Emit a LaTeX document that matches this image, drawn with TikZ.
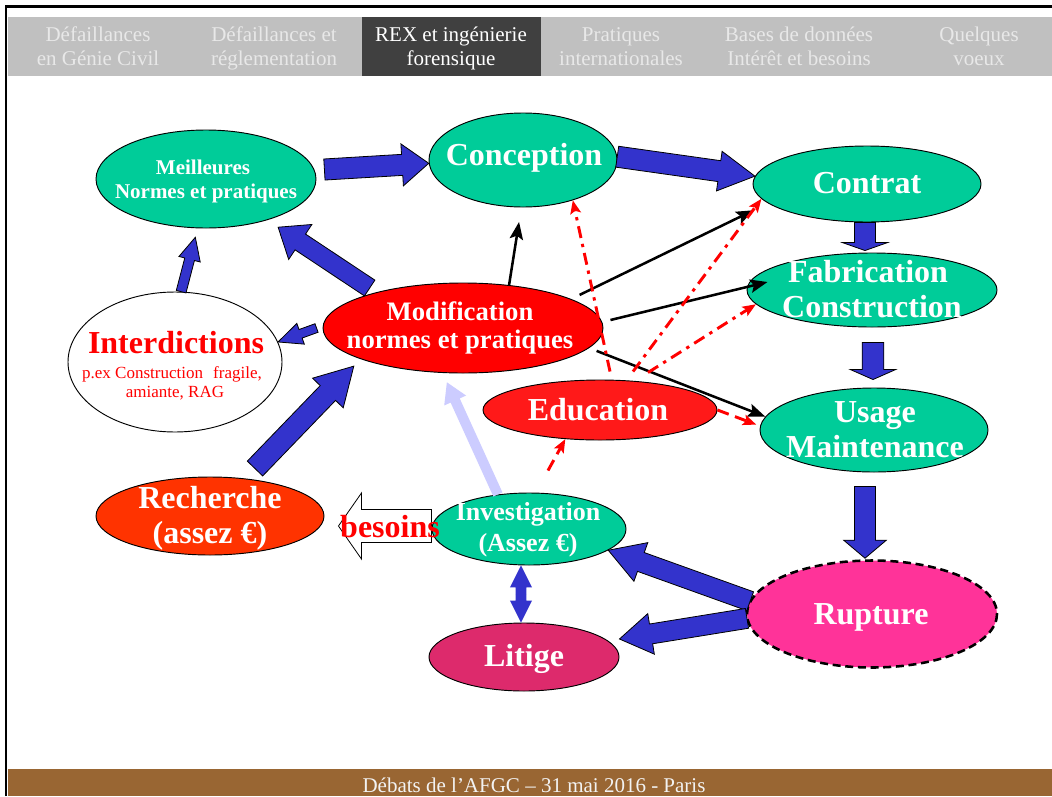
\documentclass[tikz,border=0pt]{standalone}
\usepackage{fontspec}
\setmainfont{Liberation Serif}
\newfontfamily\hdrfont{Liberation Serif}
\usetikzlibrary{calc,arrows.meta,shapes.geometric}
\definecolor{ngreen}{HTML}{00CC99}
\definecolor{modred}{HTML}{FF0000}
\definecolor{edured}{HTML}{FF1919}
\definecolor{rechred}{HTML}{FF3300}
\definecolor{litpink}{HTML}{DD2A6C}
\definecolor{ruptpink}{HTML}{FF3399}
\definecolor{arrblue}{HTML}{3333CC}
\definecolor{lavender}{HTML}{CCCCFF}
\definecolor{headgray}{HTML}{C0C0C0}
\definecolor{headtext}{HTML}{E8E8E8}
\definecolor{tabdark}{HTML}{404040}
\definecolor{footbrown}{HTML}{996633}
\definecolor{foottext}{HTML}{F2F2F2}
\tikzset{
  ell/.style={ellipse, draw=black, line width=0.7pt, inner sep=0pt},
  tw/.style={text=white, anchor=base, inner sep=0pt, font=\bfseries\fontsize{24}{24}\selectfont},
  hdr/.style={text=headtext, anchor=base, inner sep=0pt, font=\hdrfont\fontsize{15.75}{18}\selectfont},
  blockarr/.style={fill=arrblue, draw=black, line width=0.6pt, line join=miter},
  blackarr/.style={draw=black, line width=1.9pt, -{Stealth[length=13pt,width=10pt,inset=2.5pt]}},
  reddash/.style={draw=red, line width=2.2pt, dash pattern=on 9pt off 4.5pt on 2.5pt off 4.5pt, -{Stealth[length=10pt,width=8pt,inset=2pt]}},
  redplain/.style={draw=red, line width=2.2pt, dash pattern=on 9pt off 5pt, -{Stealth[length=10pt,width=8pt,inset=2pt]}}
}
% #1 extra style, #2 start, #3 tip, #4 shaft half width, #5 head half width, #6 head length
\newcommand\blockarrow[6][]{%
  \coordinate (ba-s) at (#2);
  \coordinate (ba-e) at (#3);
  \coordinate (ba-h) at ($(ba-e)!#6!(ba-s)$);
  \path[blockarr,#1] ($(ba-s)!#4!90:(ba-e)$) -- ($(ba-h)!#4!-90:(ba-s)$) -- ($(ba-h)!#5!-90:(ba-s)$) -- (ba-e) -- ($(ba-h)!#5!90:(ba-s)$) -- ($(ba-h)!#4!90:(ba-s)$) -- ($(ba-s)!#4!-90:(ba-e)$) -- cycle;
}
\begin{document}
\begin{tikzpicture}[x=0.75pt,y=-0.75pt]
\useasboundingbox (0,0) rectangle (1052,796);
\fill[white] (0,0) rectangle (1052,796);
% header band
\fill[headgray] (8,17) rectangle (1052,76);
\fill[tabdark] (362,17) rectangle (541,76);
\draw[line width=1.8pt, line join=miter] (6,796) -- (6,6.5) -- (1052,6.5);
% footer band
\fill[footbrown] (8,769) rectangle (1052,796);
% header tabs
\node[hdr] (t1a) at (98,41) {Défaillances};
\node[hdr] (t1b) at (98,65) {en Génie Civil};
\node[hdr] (t2a) at (274,41) {Défaillances et};
\node[hdr] (t2b) at (274,65) {réglementation};
\node[hdr, text=white] (t3a) at (451,41) {REX et ingénierie};
\node[hdr, text=white] (t3b) at (451,65) {forensique};
\node[hdr] (t4a) at (621,41) {Pratiques};
\node[hdr] (t4b) at (621,65) {internationales};
\node[hdr] (t5a) at (799,41) {Bases de données};
\node[hdr] (t5b) at (799,65) {Intérêt et besoins};
\node[hdr] (t6a) at (979,41) {Quelques};
\node[hdr] (t6b) at (979,65) {voeux};
\node[hdr, text=foottext] (foot) at (534,792) {Débats de l’AFGC – 31 mai 2016 - Paris};

% ellipses
\node[ell, fill=ngreen, minimum width=165pt, minimum height=73.5pt] (meil) at (206,179) {};
\node[ell, fill=ngreen, minimum width=141pt, minimum height=70.5pt] (conc) at (523,160) {};
\node[ell, fill=ngreen, minimum width=171pt, minimum height=57pt] (contrat) at (867,184) {};
\node[ell, fill=ngreen, minimum width=187.5pt, minimum height=55.5pt] (fab) at (872,290) {};
\node[ell, fill=ngreen, minimum width=171pt, minimum height=63pt] (usage) at (874,430) {};
\node[ell, fill=modred, minimum width=210pt, minimum height=67.5pt] (modif) at (463,328) {};
\node[ell, fill=white, minimum width=160.5pt, minimum height=105pt] (inter) at (175,362) {};
\node[ell, fill=edured, minimum width=175.5pt, minimum height=45pt] (edu) at (600,410) {};
\node[ell, fill=rechred, minimum width=171pt, minimum height=58.5pt] (rech) at (210,516) {};
\node[ell, fill=ngreen, minimum width=145.5pt, minimum height=54pt] (inv) at (529,529) {};
\node[ell, fill=litpink, minimum width=142.5pt, minimum height=51pt] (litige) at (524,657) {};
\node[ell, fill=ruptpink, draw=none, minimum width=187.5pt, minimum height=80pt] (rupt) at (872,614) {};
\draw[line width=1.9pt, dash pattern=on 6pt off 3.5pt] (rupt.center) ellipse[x radius=125, y radius=53.5];

% blue block arrows
\blockarrow{$(meil.5)+(10,0)$}{conc.182}{7.9pt}{15.75pt}{20pt}
\blockarrow{conc.2}{contrat.176}{7.9pt}{15pt}{27pt}
\blockarrow{$(contrat.south)+(-2,0)$}{$(contrat.south |- fab.north)+(-2,-2)$}{7.9pt}{17pt}{6pt}
\blockarrow{$(fab.south)+(1,15)$}{$(fab.south |- usage.north)+(1,-8)$}{8.1pt}{17pt}{7.5pt}
\blockarrow{$(usage.south)+(-9,14)$}{$(usage.south |- rupt.north)+(-9,-2)$}{7.9pt}{16pt}{13.5pt}
\blockarrow{rupt.174}{inv.-15}{7.5pt}{15.4pt}{26pt}
\blockarrow{rupt.182}{$(litige.east)+(0,-18)$}{7.5pt}{15.4pt}{24pt}
\blockarrow{$(modif.160)+(0,-6)$}{$(meil.-34)+(11,7)$}{7.1pt}{15.75pt}{20pt}
\blockarrow{inter.85}{$(meil.-100)+(-2,9)$}{3.75pt}{8.25pt}{17pt}
\blockarrow{$(modif.180)+(-6,0)$}{inter.11}{3.4pt}{8.25pt}{18pt}
\blockarrow{$(rech.north)+(45,-8)$}{$(modif.199)+(-13,5)$}{8pt}{16pt}{28pt}
\blockarrow[fill=lavender, draw=none]{inv.132}{$(modif.-105)+(-4,9)$}{3.75pt}{9pt}{15pt}
% besoins arrow
\coordinate (bs) at ($(inv.west)+(0,-3)$);
\coordinate (be) at ($(rech.east)+(14,10)$);
\blockarrow[fill=white]{bs}{be}{12.4pt}{24.75pt}{17.25pt}
% double arrow investigation <-> litige
\coordinate (d1) at ($(inv.south)+(-8,0)$);
\coordinate (d2) at ($(litige.north)+(-3,0)$);
\coordinate (dm) at ($(d1)!0.5!(d2)$);
\blockarrow[draw=none]{dm}{d1}{4pt}{8.3pt}{16.5pt}
\blockarrow[draw=none]{dm}{d2}{4pt}{8.3pt}{16.5pt}

% black arrows
\draw[blackarr, shorten >=11pt] (modif.43) -- (conc.-92);
\draw[blackarr, shorten <=7pt, shorten >=12pt] (modif.15) -- (contrat.191);
\draw[blackarr] ($(modif.east)+(7,-8)$) -- ($(fab.west)+(21,-8)$);
\draw[blackarr, shorten <=6pt] (modif.-9) -- (usage.173);

% red arrows
\draw[reddash] ($(edu.north)+(10,-8)$) -- (conc.-39);
\draw[reddash] ($(edu.north)+(33,-8)$) -- (contrat.188);
\draw[reddash] ($(edu.north)+(48,-7)$) -- (fab.187);
\draw[redplain, shorten >=3pt] (edu.east) -- (usage.178);
\draw[redplain] ($(inv.north)+(19,-22)$) -- (edu.220);

% texts
\node[tw, font=\bfseries\fontsize{15.75}{16}\selectfont] (meilt1) at ($(meil)+(-3,-5)$) {Meilleures};
\node[tw, font=\bfseries\fontsize{15.75}{16}\selectfont] (meilt2) at ($(meil)+(0,19)$) {Normes et pratiques};
\node[tw] (conct) at ($(conc)+(1,5)$) {Conception};
\node[tw] (contratt) at ($(contrat)+(0,9)$) {Contrat};
\node[tw] (fabt1) at ($(fab)+(-4,-8)$) {Fabrication};
\node[tw] (fabt2) at ($(fab)+(0,27)$) {Construction};
\node[tw] (usaget1) at ($(usage)+(1,-8)$) {Usage};
\node[tw] (usaget2) at ($(usage)+(1,27)$) {Maintenance};
\node[tw, font=\bfseries\fontsize{20}{20}\selectfont] (modift1) at ($(modif)+(-3,-8)$) {Modification};
\node[tw, font=\bfseries\fontsize{20}{20}\selectfont] (modift2) at ($(modif)+(-3,20)$) {normes et pratiques};
\node[tw, text=red] (intert1) at ($(inter)+(1,-9)$) {Interdictions};
\node[tw, text=red, font=\fontsize{12.75}{13}\selectfont] (intert2) at ($(inter)+(-3,16)$) {p.ex Construction\hspace{0.6em}fragile,};
\node[tw, text=red, font=\fontsize{12.75}{13}\selectfont] (intert3) at ($(inter)+(0,35)$) {amiante, RAG};
\node[tw] (edut) at ($(edu)+(-2,10)$) {Education};
\node[tw] (recht1) at ($(rech)+(0,-8)$) {Recherche};
\node[tw] (recht2) at ($(rech)+(0,27)$) {(assez €)};
\node[tw, font=\bfseries\fontsize{19.5}{20}\selectfont] (invt1) at ($(inv)+(-1,-9)$) {Investigation};
\node[tw, font=\bfseries\fontsize{19.5}{20}\selectfont] (invt2) at ($(inv)+(-1,22)$) {(Assez €)};
\node[tw] (litt) at ($(litige)+(0,9)$) {Litige};
\node[tw] (ruptt) at ($(rupt)+(-1,10)$) {Rupture};
\node[tw, text=red] (besoins) at ($($(bs)!0.5!(be)$)+(5,11)$) {besoins};
\end{tikzpicture}
\end{document}
